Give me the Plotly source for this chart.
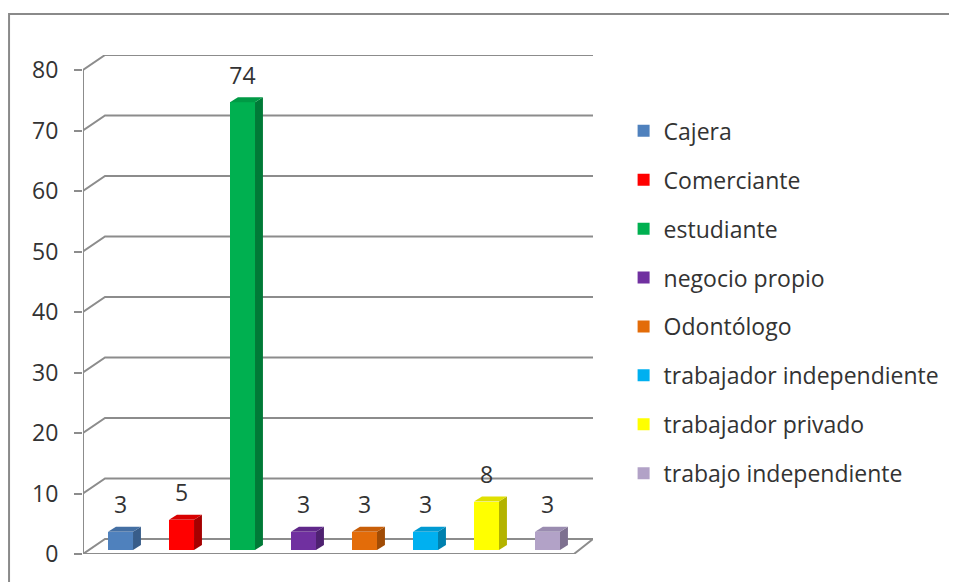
import plotly.graph_objects as go

categories = ["Cajera", "Comerciante", "estudiante", "negocio propio", "Odontólogo",
              "trabajador independiente", "trabajador privado", "trabajo independiente"]
values = [3, 5, 74, 3, 3, 3, 8, 3]
front_colors = ["#4F81BD", "#FF0000", "#00B050", "#7030A0", "#E36C09", "#00B0F0", "#FFFF00", "#B2A2C7"]
side_colors = ["#385D8A", "#A50000", "#007A37", "#4E2170", "#A04C06", "#0080AE", "#B3B300", "#7E7190"]
top_colors = ["#446FA3", "#D80000", "#009A45", "#60288A", "#C85E08", "#009AD2", "#E0E000", "#9A8CB0"]
tick_vals = [0, 10, 20, 30, 40, 50, 60, 70, 80]

# geometry (in data units)
XMIN, XMAX = -0.615, 7.746
YMAX = 82.48
WALL_DX, WALL_DY = 0.361, 2.48     # back-wall offset
BAR_W = 0.41
BAR_BASE = 0.66
DEP_DX, DEP_DY = 0.13, 0.83        # bar depth
FLOOR_FR = 7.434

GRID = "#8C8C8C"
TXT = "#333333"
FONT = "Open Sans"

fig = go.Figure()

for i, (c, v) in enumerate(zip(categories, values)):
    fig.add_trace(go.Bar(x=[i], y=[v], base=[BAR_BASE], width=BAR_W, name=c,
                         marker=dict(color=front_colors[i], line=dict(width=0)),
                         legendgroup=c, hoverinfo="skip"))

for i, v in enumerate(values):
    xl, xr = i - BAR_W / 2, i + BAR_W / 2
    yb, yt = BAR_BASE, BAR_BASE + v
    fig.add_trace(go.Scatter(x=[xr, xr + DEP_DX, xr + DEP_DX, xr, xr],
                             y=[yb, yb + DEP_DY, yt + DEP_DY, yt, yb],
                             fill="toself", fillcolor=side_colors[i], mode="lines",
                             line=dict(width=0), showlegend=False, hoverinfo="skip"))
    fig.add_trace(go.Scatter(x=[xl, xr, xr + DEP_DX, xl + DEP_DX, xl],
                             y=[yt, yt, yt + DEP_DY, yt + DEP_DY, yt],
                             fill="toself", fillcolor=top_colors[i], mode="lines",
                             line=dict(width=0), showlegend=False, hoverinfo="skip"))

fig.add_trace(go.Scatter(x=list(range(len(values))),
                         y=[BAR_BASE + v + DEP_DY + 1.3 for v in values],
                         mode="text", text=[str(v) for v in values],
                         textposition="top center",
                         textfont=dict(family=FONT, size=23, color=TXT),
                         showlegend=False, hoverinfo="skip"))

shapes = []
for t in tick_vals:
    shapes.append(dict(type="path", xref="x", yref="y", layer="below",
                       path=f"M {XMIN},{t} L {XMIN + WALL_DX},{t + WALL_DY} L {XMAX},{t + WALL_DY}",
                       line=dict(color=GRID, width=2)))
shapes.append(dict(type="path", xref="x", yref="y", layer="below",
                   path=f"M {XMIN},0 L {FLOOR_FR},0 L {XMAX},{WALL_DY}",
                   line=dict(color=GRID, width=2)))
shapes.append(dict(type="path", xref="x", yref="y", layer="below",
                   path=f"M {XMIN},0 L {XMIN},{tick_vals[-1]}",
                   line=dict(color=GRID, width=2)))
# chart frame
shapes.append(dict(type="rect", xref="paper", yref="paper", layer="below",
                   x0=-0.145, x1=2.0, y0=-0.3, y1=1.082,
                   line=dict(color="#8A8A8A", width=2)))

fig.update_layout(
    width=949, height=574,
    margin=dict(l=75, r=364, t=47, b=28),
    paper_bgcolor="white", plot_bgcolor="rgba(0,0,0,0)",
    shapes=shapes,
    showlegend=True,
    legend=dict(x=1.06, y=0.891, xanchor="left", yanchor="top",
                font=dict(family=FONT, size=23, color=TXT),
                tracegroupgap=16, itemclick=False, itemdoubleclick=False),
    xaxis=dict(range=[XMIN, XMAX], visible=False, fixedrange=True),
    yaxis=dict(range=[0, YMAX], tickvals=tick_vals, showgrid=False, zeroline=False,
               showline=False, ticks="outside", ticklen=8, tickcolor=GRID, tickwidth=2,
               ticklabelstandoff=11,
               tickfont=dict(family=FONT, size=23, color=TXT), fixedrange=True),
    bargap=0,
)

fig.write_html("out.html")
